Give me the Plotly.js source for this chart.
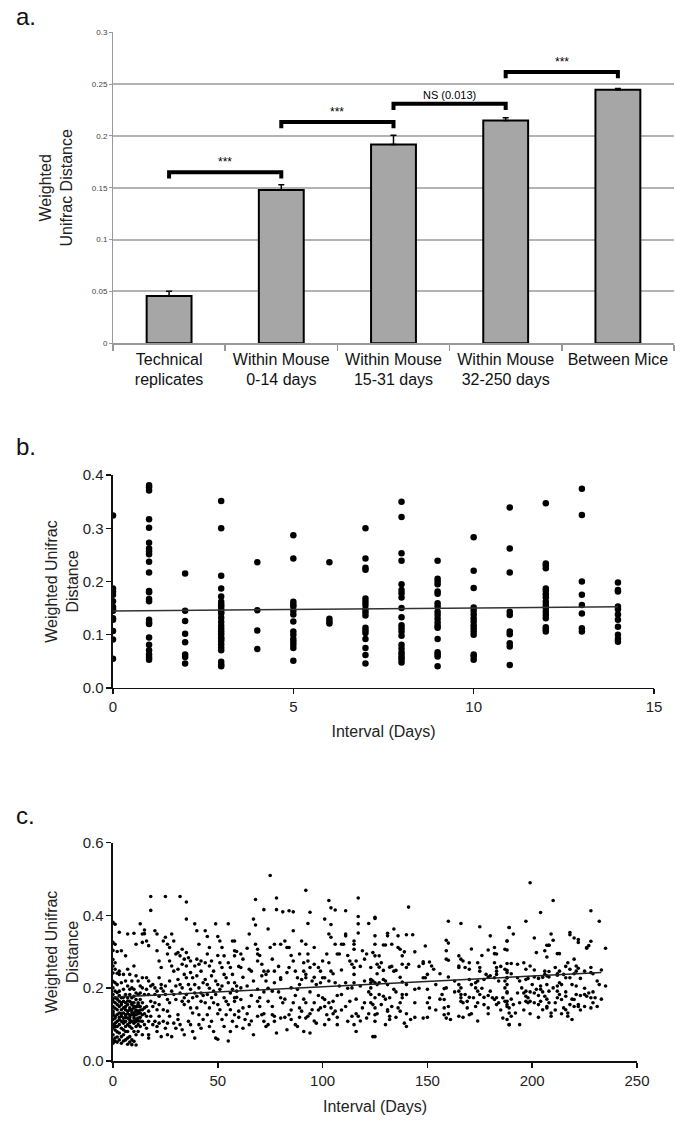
<!DOCTYPE html>
<html><head><meta charset="utf-8">
<script src="https://cdn.plot.ly/plotly-3.0.1.min.js"></script>
<style>html,body{margin:0;padding:0;background:#fff;}#chart{width:675px;height:1123px;}</style>
</head><body><div id="chart"></div>
<script>
// ---------- Panel a ----------
const catLabels = ['Technical<br>replicates','Within Mouse<br>0-14 days','Within Mouse<br>15-31 days','Within Mouse<br>32-250 days','Between Mice'];
const meanDist = [0.0456, 0.148, 0.1917, 0.215, 0.2447];
const semUp = [0.0045, 0.005, 0.009, 0.0027, 0.0012];
const brFrom = [0, 1, 2, 3];
const brTo = [1, 2, 3, 4];
const brHeight = [0.165, 0.2135, 0.231, 0.2617];
const brLabel = ['***', '***', 'NS (0.013)', '***'];
const brDrop = 0.006;

// ---------- Panel b : rows = [interval, distances...] ----------
const bRows = [
 [0,.324,.187,.181,.175,.163,.152,.148,.145,.131,.128,.107,.091,.055],
 [1,.381,.377,.371,.317,.301,.273,.262,.257,.251,.237,.217,.182,.180,.167,.163,.128,.123,.120,.095,.081,.071,.063,.057,.053],
 [2,.215,.145,.126,.102,.086,.063,.058,.046],
 [3,.351,.300,.211,.187,.172,.162,.157,.153,.148,.143,.140,.132,.124,.117,.111,.106,.101,.095,.092,.088,.082,.076,.071,.049,.044,.041],
 [4,.236,.146,.108,.073],
 [5,.287,.243,.162,.157,.153,.145,.138,.125,.106,.100,.092,.087,.081,.075,.051],
 [6,.236,.130,.125,.121],
 [7,.300,.243,.226,.222,.168,.162,.156,.148,.142,.136,.113,.108,.103,.092,.075,.062,.046],
 [8,.350,.321,.253,.239,.195,.184,.178,.170,.150,.133,.118,.112,.106,.098,.081,.074,.067,.062,.057,.053,.048],
 [9,.239,.205,.200,.195,.181,.177,.159,.153,.143,.137,.130,.123,.117,.113,.092,.067,.063,.059,.041],
 [10,.283,.220,.188,.151,.145,.138,.131,.125,.118,.112,.106,.100,.063,.059,.053],
 [11,.339,.262,.217,.143,.137,.106,.101,.084,.078,.043],
 [12,.347,.234,.230,.225,.187,.182,.176,.170,.162,.156,.150,.143,.137,.131,.114,.110,.106],
 [13,.374,.325,.200,.175,.156,.140,.112,.106],
 [14,.198,.184,.181,.153,.148,.138,.128,.115,.100,.092,.087]
];
const bTrendX = [0, 14];
const bTrendY = [0.1445, 0.1525];

// ---------- Panel c : rows = [interval, distances...] ----------
const cEarly = [
 [0,.381,.326,.304,.279,.261,.242,.219,.201,.183,.164,.150,.137,.127,.114,.100,.091,.072,.058,.049,.171,.132],
 [1,.376,.321,.270,.252,.215,.192,.174,.145,.118,.104,.085,.063,.054,.160,.123,.095],
 [2,.301,.241,.210,.188,.155,.141,.128,.109,.095,.080,.066,.052,.170],
 [3,.354,.247,.238,.192,.164,.150,.132,.114,.100,.077,.058,.180,.120],
 [4,.303,.215,.174,.155,.141,.123,.109,.090,.067,.049,.160,.130],
 [5,.238,.197,.164,.146,.132,.118,.104,.086,.072,.055,.175,.110],
 [6,.289,.220,.183,.160,.141,.127,.109,.095,.081,.058,.150,.120],
 [7,.349,.252,.206,.174,.155,.137,.118,.100,.081,.063,.046,.165,.130],
 [8,.238,.197,.183,.164,.146,.127,.113,.095,.067,.052,.140,.120,.105],
 [9,.220,.201,.174,.155,.141,.127,.109,.090,.058,.045,.160,.135],
 [10,.351,.261,.197,.178,.160,.146,.132,.118,.104,.081,.054,.150,.125,.110],
 [11,.321,.234,.187,.169,.150,.137,.127,.109,.095,.072,.044,.140,.115],
 [12,.220,.183,.160,.150,.137,.118,.100,.081,.155,.130,.110],
 [13,.377,.206,.187,.169,.150,.132,.120,.095,.140,.110],
 [14,.349,.326,.229,.201,.160,.141,.127,.109,.072]
];
const cMonth = [
 [15,.36,.35,.183,.146,.13,.1],[16,.33,.229,.197,.15,.123,.09],[17,.317,.22,.183,.137,.109,.072,.063],
 [18,.452,.414,.206,.164,.123],[19,.21,.15,.1],[20,.358,.201,.183,.16,.109],[21,.349,.303,.192,.141,.095,.081],
 [22,.275,.229,.178,.155,.123,.104],[23,.257,.21,.2,.067],[24,.33,.192,.141,.109],[25,.452,.34,.206,.183,.09],
 [26,.321,.294,.169,.137,.104,.072],[27,.312,.275,.22,.16,.123],[28,.349,.261,.192,.067],[29,.33,.247,.183,.104],
 [30,.294,.206,.169,.09],[31,.298,.252,.224,.127,.114],[32,.452,.289,.21,.187,.1],[33,.307,.266,.201,.164,.086],
 [34,.28,.238,.174,.155,.072],[35,.437,.39,.298,.261,.229,.183],[36,.284,.21,.164,.109],[37,.275,.243,.197,.146,.1],
 [38,.229,.174,.132,.081],[39,.377,.261,.21,.187,.063],[40,.358,.28,.234,.178,.146],[41,.321,.266,.201,.127,.1],
 [42,.275,.247,.187,.164,.09],[43,.215,.18,.114],[44,.358,.27,.224,.16],[45,.342,.294,.21,.183,.127],
 [46,.312,.261,.2,.146,.095],[47,.275,.234,.174,.109],[48,.247,.192,.16,.081],[49,.377,.22,.183,.063],
 [50,.342,.29,.21,.155,.06,.13],[51,.33,.27,.197,.141],[52,.312,.257,.206,.114],[53,.289,.238,.174,.095],
 [54,.229,.164,.127],[55,.377,.27,.215,.155,.055],[56,.257,.187,.141,.081],[57,.33,.238,.197,.109],
 [58,.289,.215,.164,.127],[59,.301,.206,.175,.095]
];
const cMid = [
 [75,.51],[92,.469],[68,.444,.374,.321],[78,.448,.416,.077],[72,.416,.247,.109],[81,.41,.16],[84,.413,.312,.257,.127],
 [86,.41,.358,.275,.16],[94,.409,.257,.077],[103,.441,.349,.22,.114],[104,.421,.375,.34,.247,.146],[106,.415,.321,.215,.137],
 [117,.448,.397,.377,.352,.123],[111,.413,.349,.344,.215,.15],[67,.39,.22,.072],[65,.349,.252,.15,.1],[74,.363,.247,.164],
 [93,.378,.294,.275,.123],[101,.39,.229,.169],[115,.33,.321,.307,.257,.238,.215,.1],[122,.378],[125,.392,.215,.146],
 [58,.33,.303,.174],[61,.294,.257,.201,.169],[62,.28,.146],[66,.247],[69,.307,.294,.275,.197,.164,.123],[71,.266,.234,.127],
 [73,.238,.22,.095],[75,.312],[77,.321,.247,.215,.123,.109],[80,.224,.321,.229,.174,.118],[82,.33],[83,.312,.243,.086],
 [87,.247],[89,.294,.146],[90,.33,.224,.137],[91,.247,.081],[92,.238,.321,.229,.118,.16],[96,.312,.266,.16],[98,.257],
 [99,.247,.215,.146],[100,.275,.229,.174],[102,.294,.127],[107,.294,.1],[108,.294,.206],[109,.321,.183],[110,.321],
 [113,.275,.164],[114,.266,.201,.123],[116,.275,.081],[119,.303,.146],[121,.294,.118],[123,.257,.224,.224,.16],
 [59,.192],[60,.137],[63,.114],[64,.206],[70,.174],[76,.192,.127],[85,.201,.114],[88,.229,.197,.095],[95,.22,.141],
 [97,.21,.104],[105,.164],[112,.109],[118,.206],[120,.22],[124,.067],
 [60,.26,.12],[62,.23,.09],[64,.31,.13],[66,.18,.11],[70,.29,.15],[72,.19,.13],[74,.2,.1],[76,.28,.15],[79,.26,.19],
 [82,.17,.12],[85,.29,.14],[87,.18,.1],[89,.21,.12],[91,.17,.27],[94,.19,.13],[96,.23,.11],[98,.18,.14],[101,.15,.1],
 [103,.27,.16],[105,.24,.13],[107,.18,.12],[109,.25,.14],[112,.2,.29],[116,.17,.13],[118,.26,.11],[120,.16,.28],[122,.19,.13]
];
const cLate = [
 [141,.423,.266],[125,.395,.344,.321,.289,.174,.127,.109,.067],[160,.384,.324,.277,.231],[166,.378,.28,.201,.183,.174,.164],
 [175,.369,.257,.247,.183],[189,.367,.146,.1],[134,.363,.247,.197],[131,.351,.344,.21,.141,.137],[136,.344,.312,.146],
 [140,.347,.257,.183,.095],[143,.347],[180,.344,.234,.192],[188,.33,.243,.229,.155],[159,.332,.303,.28,.201,.118],[171,.308],
 [129,.319,.249,.224,.178],[130,.319,.22],[133,.321],[137,.307,.137],[139,.3,.104],[144,.3,.197],[149,.316,.229],
 [124,.298,.22,.155],[127,.289,.258,.215,.183],[165,.289,.261,.257,.21,.192,.123],[179,.305,.231,.146],
 [182,.295,.312,.27,.229,.169],[183,.294,.257,.247,.238,.155,.174],[187,.307,.252,.22,.164],[126,.266,.21],[128,.27,.155],
 [132,.258,.174,.123,.114],[135,.249],[138,.289,.266,.217,.183,.174],[148,.273,.268,.229,.118],[151,.272,.174,.146],
 [152,.261],[153,.252],[150,.238,.197],[167,.275],[168,.257,.183],[170,.27,.252,.224,.127,.175],[174,.27,.22,.192],
 [178,.238],[123,.215,.201,.183],[158,.199,.169,.146,.127],[173,.215,.15,.201],[177,.224,.175,.155],[142,.114],
 [157,.183],[161,.114],[169,.164,.146],[172,.174],[181,.174],[186,.118,.174],
 [126,.13,.24],[130,.17,.1],[133,.15,.26],[135,.19,.12],[137,.23,.16],[140,.13,.21],[144,.16,.12],[146,.2,.26],
 [150,.16,.12],[154,.21,.14],[156,.24,.17],[160,.15,.13],[163,.22,.19],[167,.16,.12],[171,.21,.13],[174,.16,.11],
 [176,.2,.29],[179,.18,.13],[184,.22,.16],[185,.26,.14]
];
const cEnd = [
 [199,.49,.261,.164],[210,.441,.201],[204,.408,.206,.197,.164],[228,.413,.329,.257,.243,.146,.174],[232,.384,.21],
 [197,.384,.252,.224,.164,.178,.192],[189,.367,.132,.1],[191,.349,.155],[188,.33,.305,.268,.249,.229,.187,.164,.15,.114],
 [201,.338,.231,.187],[202,.298,.197],[209,.349,.123,.132],[210,.332],[207,.318,.286,.234,.15,.146],
 [208,.318,.318,.246,.231,.16,.192],[206,.303,.247,.238,.178],[212,.295,.24,.236,.206,.192,.174],[213,.295,.247,.215,.183],
 [218,.353,.347,.252,.229,.155],[220,.338,.28,.24,.169,.15],[222,.334,.326,.255,.155,.15],[226,.312,.31,.178],
 [227,.317,.187],[235,.31,.206],[190,.268,.123],[193,.266,.229,.187],[211,.257],[215,.238,.146],[217,.27,.132,.123],
 [221,.261,.247,.206,.183],[225,.247,.183],[229,.24],[198,.227,.174,.16],[203,.227,.155],[216,.229,.178,.141],[223,.227],
 [187,.201],[192,.132],[194,.1],[195,.201],[196,.187],[200,.21],[205,.141],[214,.169],[219,.114],[230,.174],
 [188,.19,.21],[190,.17,.24],[194,.16,.22],[196,.14,.27],[199,.19,.13],[201,.16,.25],[203,.18,.12],[205,.23,.19],
 [207,.17,.21],[211,.14,.16],[214,.21,.13],[216,.19,.26],[219,.21,.17],[223,.18,.14],[225,.2,.15],[229,.19,.16],
 [231,.22,.15],[233,.17,.25]
];
const cTrendX = [0, 233];
const cTrendY = [0.175, 0.243];

function flatten(rows){
  const xs=[], ys=[];
  rows.forEach(r=>{ for(let i=1;i<r.length;i++){ xs.push(r[0]); ys.push(r[i]); } });
  return {xs, ys};
}
const bPts = flatten(bRows);
const cPts = flatten([].concat(cEarly, cMonth, cMid, cLate, cEnd));

const FONT = 'Liberation Sans, Arial, sans-serif';
const traces = [];

traces.push({
  type:'bar', x:catLabels, y:meanDist, xaxis:'x', yaxis:'y', width:0.4,
  marker:{color:'#a6a6a6', line:{color:'#000', width:2}},
  error_y:{type:'data', symmetric:false, array:semUp, arrayminus:semUp.map(()=>0), color:'#000', thickness:1.5, width:3},
  hoverinfo:'skip'
});
for(let i=0;i<brFrom.length;i++){
  const a=catLabels[brFrom[i]], b=catLabels[brTo[i]], h=brHeight[i];
  traces.push({type:'scatter', mode:'lines', xaxis:'x', yaxis:'y',
    x:[a,a,b,b], y:[h-brDrop,h,h,h-brDrop], line:{color:'#000', width:4}, hoverinfo:'skip'});
}
traces.push({type:'scatter', mode:'markers', xaxis:'x2', yaxis:'y2', x:bPts.xs, y:bPts.ys,
  marker:{color:'#000', size:6.5}, hoverinfo:'skip'});
traces.push({type:'scatter', mode:'lines', xaxis:'x2', yaxis:'y2', x:bTrendX, y:bTrendY,
  line:{color:'#333', width:1.5}, hoverinfo:'skip'});
traces.push({type:'scatter', mode:'markers', xaxis:'x3', yaxis:'y3', x:cPts.xs, y:cPts.ys,
  marker:{color:'#000', size:3.6}, hoverinfo:'skip'});
traces.push({type:'scatter', mode:'lines', xaxis:'x3', yaxis:'y3', x:cTrendX, y:cTrendY,
  line:{color:'#222', width:1.5}, hoverinfo:'skip'});

const annotations = [];
for(let i=0;i<brFrom.length;i++){
  annotations.push({xref:'x', yref:'y', x:(brFrom[i]+brTo[i])/2, y:brHeight[i], yanchor:'bottom', yshift:1,
    text:brLabel[i], showarrow:false, font:{family:FONT, size: brLabel[i]==='***'?12:11, color:'#000'}});
}
const panelText = ['a.', 'b.', 'c.'];
const panelY = [1-16/1123, 1-446/1123, 1-815/1123];
panelText.forEach((t,i)=>annotations.push({xref:'paper', yref:'paper', x:14/675, y:panelY[i], xanchor:'left', yanchor:'middle',
  text:t, showarrow:false, font:{family:FONT, size:24, color:'#111'}}));

const scatterAxis = {showline:true, linecolor:'#111', linewidth:1.5, ticks:'outside', ticklen:5, tickcolor:'#111', tickwidth:1.5,
  showgrid:false, zeroline:false, tickfont:{family:FONT, size:15, color:'#222'}};

const layout = {
  width:675, height:1123, margin:{l:0, r:0, t:0, b:0}, paper_bgcolor:'#fff', plot_bgcolor:'rgba(0,0,0,0)',
  showlegend:false, font:{family:FONT, color:'#222'},
  xaxis:{domain:[0.1674, 0.9985], anchor:'y', type:'category', tickson:'boundaries', ticks:'outside', ticklen:6,
    tickcolor:'#999', tickwidth:1.5, showline:true, linecolor:'#999', linewidth:2, showgrid:false,
    tickfont:{family:FONT, size:16, color:'#111'}},
  yaxis:{domain:[0.6943, 0.9712], anchor:'x', range:[0, 0.3], dtick:0.05, showgrid:true, gridcolor:'#b3b3b3', gridwidth:2,
    showline:true, linecolor:'#999', linewidth:1, ticks:'outside', ticklen:3, tickcolor:'#999', zeroline:false,
    tickfont:{family:FONT, size:8, color:'#444'},
    title:{text:'Weighted<br>Unifrac Distance', font:{family:FONT, size:16, color:'#222'}, standoff:15}},
  xaxis2:Object.assign({}, scatterAxis, {domain:[0.1674, 0.9689], anchor:'y2', range:[0, 15], dtick:5,
    title:{text:'Interval (Days)', font:{family:FONT, size:16, color:'#222'}, standoff:11}}),
  yaxis2:Object.assign({}, scatterAxis, {domain:[0.3874, 0.5770], anchor:'x2', range:[0, 0.4], dtick:0.1, tickformat:'.1f',
    title:{text:'Weighted Unifrac<br>Distance', font:{family:FONT, size:16, color:'#222'}, standoff:0}}),
  xaxis3:Object.assign({}, scatterAxis, {domain:[0.1674, 0.9437], anchor:'y3', range:[0, 250], dtick:50,
    title:{text:'Interval (Days)', font:{family:FONT, size:16, color:'#222'}, standoff:13}}),
  yaxis3:Object.assign({}, scatterAxis, {domain:[0.0552, 0.2496], anchor:'x3', range:[0, 0.6], dtick:0.2, tickformat:'.1f',
    title:{text:'Weighted Unifrac<br>Distance', font:{family:FONT, size:16, color:'#222'}, standoff:0}}),
  annotations:annotations
};

Plotly.newPlot('chart', traces, layout, {staticPlot:true, displayModeBar:false});
</script>
</body></html>
